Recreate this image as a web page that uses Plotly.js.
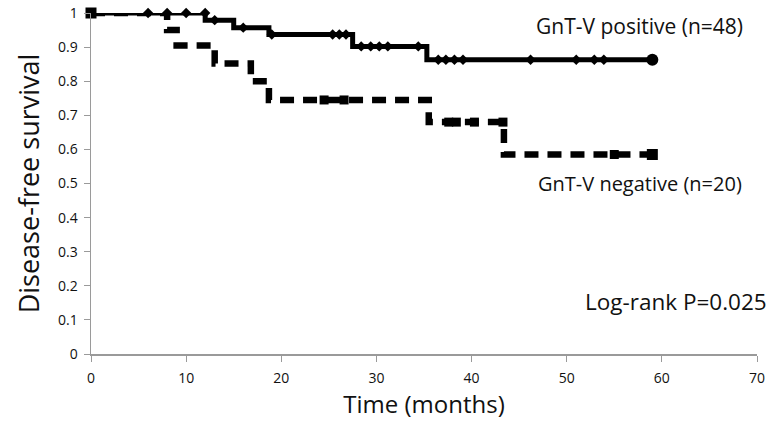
<!DOCTYPE html>
<html>
<head>
<meta charset="utf-8">
<script src="https://cdn.plot.ly/plotly-3.0.1.min.js"></script>
<style>html,body{margin:0;padding:0;background:#fff}#chart{width:771px;height:423px}</style>
</head>
<body>
<div id="chart"></div>
<script>
// Kaplan-Meier step data
const posTime = [0, 12, 15, 18.7, 27.5, 35.3, 59];
const posSurv = [1, 0.979, 0.957, 0.937, 0.902, 0.863, 0.863];
const posCensor = [6, 8, 10, 12, 13, 16, 19, 25.4, 26.1, 26.8, 28.4, 29.4, 30.3, 31.2, 34.4, 36.5, 37.3, 38.2, 39.1, 46.2, 51, 52.9, 53.9];

const negTime = [0, 8, 9, 13, 16.8, 18.7, 35.5, 43.4, 59];
const negSurv = [1, 0.95, 0.905, 0.852, 0.8, 0.745, 0.68, 0.585, 0.585];
const negCensor = [24.5, 26.6, 37.6, 38.4, 40.3, 43.3, 55];

const xTicks = [0, 10, 20, 30, 40, 50, 60, 70];
const yTicks = [0, 0.1, 0.2, 0.3, 0.4, 0.5, 0.6, 0.7, 0.8, 0.9, 1];

function stepValue(times, surv, t) {
  let v = surv[0];
  for (let i = 0; i < times.length; i++) { if (times[i] < t) v = surv[i]; }
  return v;
}

const posCensorY = posCensor.map(t => stepValue(posTime, posSurv, t));
const negCensorY = negCensor.map(t => stepValue(negTime, negSurv, t));

const traces = [
  {x: negTime, y: negSurv, mode: 'lines', line: {shape: 'hv', color: '#000', width: 6.5, dash: '14px,9px'}, cliponaxis: false},
  {x: negCensor, y: negCensorY, mode: 'markers', marker: {symbol: 'square', size: 9, color: '#000'}, cliponaxis: false},
  {x: [negTime[0], negTime[negTime.length-1]], y: [negSurv[0], negSurv[negSurv.length-1]], mode: 'markers', marker: {symbol: 'square', size: 11, color: '#000'}, cliponaxis: false},
  {x: posTime, y: posSurv, mode: 'lines', line: {shape: 'hv', color: '#000', width: 5}, cliponaxis: false},
  {x: posCensor, y: posCensorY, mode: 'markers', marker: {symbol: 'diamond', size: 8, color: '#000'}, cliponaxis: false},
  {x: [posTime[posTime.length-1]], y: [posSurv[posSurv.length-1]], mode: 'markers', marker: {symbol: 'circle', size: 12, color: '#000'}, cliponaxis: false}
];

const font = "'Open Sans', 'Liberation Sans', sans-serif";
const layout = {
  width: 771, height: 423,
  margin: {l: 91, r: 14, t: 13, b: 69},
  paper_bgcolor: '#fff', plot_bgcolor: '#fff',
  showlegend: false,
  font: {family: font, color: '#111'},
  xaxis: {
    range: [0, 70], tickvals: xTicks, ticktext: xTicks.map(String),
    showgrid: false, zeroline: false, showline: true, linecolor: '#9a9a9a', linewidth: 1.5,
    ticks: 'outside', ticklen: 6, tickcolor: '#9a9a9a', tickfont: {size: 14, family: font, color: '#111'},
    ticklabelstandoff: 5,
    title: {text: 'Time (months)', font: {size: 24, family: font, color: '#111'}, standoff: 10}
  },
  yaxis: {
    range: [0, 1], tickvals: yTicks, ticktext: yTicks.map(String),
    showgrid: false, zeroline: false, showline: true, linecolor: '#9a9a9a', linewidth: 1.5,
    ticks: 'outside', ticklen: 6, tickcolor: '#9a9a9a', tickfont: {size: 14, family: font, color: '#111'},
    ticklabelstandoff: 3,
    title: {text: 'Disease-free survival', font: {size: 27, family: font, color: '#111'}, standoff: 10}
  },
  annotations: [
    {text: 'GnT-V positive (n=48)', xref: 'paper', yref: 'paper', x: 0.665, y: 0.963, xanchor: 'left', yanchor: 'middle', showarrow: false, font: {size: 21, family: font, color: '#111'}},
    {text: 'GnT-V negative (n=20)', xref: 'paper', yref: 'paper', x: 0.668, y: 0.50, xanchor: 'left', yanchor: 'middle', showarrow: false, font: {size: 20, family: font, color: '#111'}},
    {text: 'Log-rank P=0.025', xref: 'paper', yref: 'paper', x: 0.738, y: 0.155, xanchor: 'left', yanchor: 'middle', showarrow: false, font: {size: 22.5, family: font, color: '#111'}}
  ]
};

Plotly.newPlot('chart', traces, layout, {displayModeBar: false, staticPlot: true});
</script>
</body>
</html>
